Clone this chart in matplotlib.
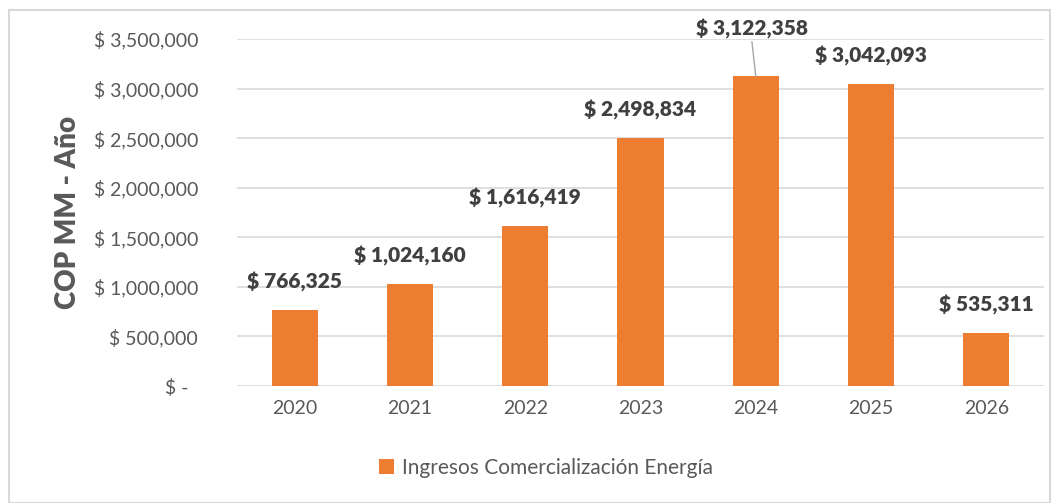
import matplotlib.pyplot as plt
from matplotlib.patches import Rectangle

years = ["2020", "2021", "2022", "2023", "2024", "2025", "2026"]
ingresos = [766325, 1024160, 1616419, 2498834, 3122358, 3042093, 535311]
serie = "Ingresos Comercialización Energía"
yticks = [0, 500000, 1000000, 1500000, 2000000, 2500000, 3000000, 3500000]

plt.rcParams["font.family"] = ["Lato", "DejaVu Sans"]
orange = "#ED7D31"
grey = "#595959"

fig = plt.figure(figsize=(10.57, 5.03), dpi=100)
ax = fig.add_axes([237 / 1057, 117 / 503, (1044 - 237) / 1057, (386 - 39) / 503])

x = range(len(years))
ax.bar(x, ingresos, width=0.4, color=orange, label=serie, zorder=2)

ax.set_xlim(-0.5, len(years) - 0.5)
ax.set_ylim(0, 3500000)
ax.set_yticks(yticks)
ax.set_yticklabels(["$ -" + "  "] + ["$ {:,}".format(v) for v in yticks[1:]])
ax.set_xticks(list(x))
ax.set_xticklabels(years)
ax.tick_params(axis="both", length=0, colors=grey, labelsize=14)
ax.tick_params(axis="y", pad=28)
ax.tick_params(axis="x", pad=10)
ax.grid(axis="y", color="#d9d9d9", linewidth=1.2, zorder=0)
for s in ax.spines.values():
    s.set_visible(False)

ax.set_ylabel("COP MM - Año", fontsize=20, fontweight="heavy", color=grey, labelpad=9)

# label offsets in points (style only)
offsets = {4: (-3, 27)}
for i, v in enumerate(ingresos):
    dx, dy = offsets.get(i, (0, 13))
    if i in offsets:
        ax.annotate("$ {:,}".format(v), xy=(i, v), xytext=(dx, dy), textcoords="offset points",
                    ha="center", va="bottom", fontsize=15, fontweight="heavy", color="#404040",
                    arrowprops=dict(arrowstyle="-", color="#a6a6a6", lw=1, shrinkA=0, shrinkB=0,
                                    relpos=(0.5, 0)))
    else:
        ax.annotate("$ {:,}".format(v), xy=(i, v), xytext=(dx, dy), textcoords="offset points",
                    ha="center", va="bottom", fontsize=15, fontweight="heavy", color="#404040")

leg = fig.legend(loc="center", bbox_to_anchor=(546 / 1057, 1 - 468 / 503), frameon=False,
                 fontsize=15, handlelength=0.7, handleheight=0.7, handletextpad=0.4)
for t in leg.get_texts():
    t.set_color(grey)

fig.patches.append(Rectangle((9 / 1057, 0), (1050 - 9) / 1057, 1 - 10 / 503, transform=fig.transFigure,
                             fill=False, edgecolor="#d9d9d9", linewidth=1.5))

fig.savefig("out.png", dpi=100)
